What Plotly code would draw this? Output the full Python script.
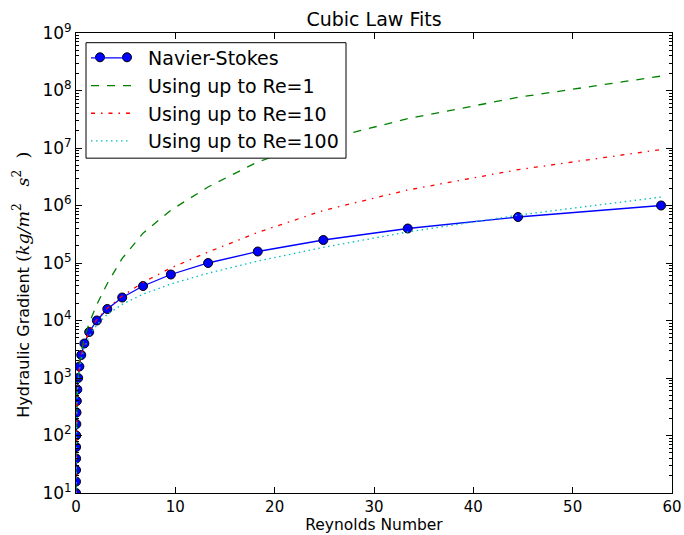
import plotly.graph_objects as go

# Reynolds numbers (shared by all series)
reynolds = [0.002, 0.003, 0.005, 0.008, 0.013, 0.021, 0.033, 0.053, 0.085, 0.135,
            0.22, 0.34, 0.53, 0.84, 1.33, 2.1, 3.15, 4.65, 6.75, 9.55,
            13.3, 18.3, 24.9, 33.4, 44.5, 58.9]

navier_stokes = [10, 15.8, 25.1, 39.8, 63.1, 100, 158, 251, 398, 631,
                 1000, 1585, 2512, 3981, 6310, 1.0e4, 1.585e4, 2.512e4, 3.981e4, 6.31e4,
                 1.0e5, 1.585e5, 2.512e5, 3.981e5, 6.31e5, 1.0e6]

fit_re1 = [10.2, 15.2, 25.4, 40.6, 66, 107, 168, 269, 432, 687,
           1126, 1762, 2824, 5.0e3, 9.0e3, 1.9e4, 4.4e4, 1.2e5, 3.3e5, 8.3e5,
           2.1e6, 5.75e6, 1.38e7, 3.24e7, 7.6e7, 1.78e8]

fit_re10 = [9.5, 14.3, 23.8, 38, 62, 100, 157, 252, 405, 643,
            1047, 1620, 2530, 4.0e3, 6.44e3, 1.04e4, 1.64e4, 2.66e4, 4.6e4, 8.2e4,
            1.55e5, 3.4e5, 8.2e5, 1.86e6, 4.2e6, 9.4e6]

fit_re100 = [8.0, 12, 20, 32, 52, 84, 132, 212, 339, 539,
             878, 1357, 2116, 3357, 5.32e3, 8.44e3, 1.28e4, 1.91e4, 2.87e4, 4.31e4,
             6.65e4, 1.08e5, 1.87e5, 3.47e5, 6.8e5, 1.4e6]

series_names = ["Navier-Stokes", "Using up to Re=1", "Using up to Re=10", "Using up to Re=100"]

x_ticks = [0, 10, 20, 30, 40, 50, 60]
y_tick_vals = [1e1, 1e2, 1e3, 1e4, 1e5, 1e6, 1e7, 1e8, 1e9]
y_tick_text = ["10<sup>%d</sup>" % e for e in range(1, 10)]

FONT = "DejaVu Sans"
W, H = 684, 535
L, R, T, B = 76, 12, 33, 41.5
PW, PH = W - L - R, H - T - B
PAD = "\u00a0\u00a0"


def px_x(p):
    return (p - L) / PW


def px_y(p):
    return (H - B - p) / PH


fig = go.Figure()
# Navier-Stokes data (legend entry drawn separately to get matplotlib-style 2-point symbol)
fig.add_trace(go.Scatter(
    x=reynolds, y=navier_stokes, mode="lines+markers", name=series_names[0],
    showlegend=False, legendgroup="ns",
    line=dict(color="#0000ff", width=1.3),
    marker=dict(size=9, color="#0000ff", line=dict(color="black", width=1))))
fig.add_trace(go.Scatter(
    x=[None], y=[None], mode="lines", name=PAD + series_names[0], legendgroup="ns",
    line=dict(color="#0000ff", width=1.3)))
fig.add_trace(go.Scatter(
    x=reynolds, y=fit_re1, mode="lines", name=PAD + series_names[1],
    line=dict(color="#008000", width=1.3, dash="8px,8px")))
fig.add_trace(go.Scatter(
    x=reynolds, y=fit_re10, mode="lines", name=PAD + series_names[2],
    line=dict(color="#ff0000", width=1.3, dash="4px,6px,1.5px,6px")))
fig.add_trace(go.Scatter(
    x=reynolds, y=fit_re100, mode="lines", name=PAD + series_names[3],
    line=dict(color="#00bfbf", width=1.3, dash="1.5px,3.5px")))

fig.update_layout(
    width=W, height=H,
    margin=dict(l=L, r=R, t=T, b=B, pad=0, autoexpand=False),
    paper_bgcolor="white", plot_bgcolor="white",
    font=dict(family=FONT, size=14, color="black"),
    title=dict(text="Cubic Law Fits", x=(L + PW / 2) / W, xanchor="center",
               y=1 - 19 / H, yanchor="middle", font=dict(size=19, family=FONT)),
    showlegend=True,
    legend=dict(x=px_x(86), y=px_y(39), xanchor="left", yanchor="top",
                bgcolor="rgba(0,0,0,0)", borderwidth=0, itemwidth=40,
                tracegroupgap=0,
                font=dict(size=19, family=FONT)),
    xaxis=dict(range=[0, 60], tickvals=x_ticks, ticks="inside", ticklen=6,
               tickcolor="black", showline=True, linecolor="black", linewidth=1,
               mirror="allticks", showgrid=False, zeroline=False, automargin=False,
               title=dict(text="Reynolds Number", font=dict(size=15.5), standoff=3),
               tickfont=dict(size=15)),
    yaxis=dict(type="log", range=[1, 9], tickvals=y_tick_vals, ticktext=y_tick_text,
               ticks="inside", ticklen=6, tickcolor="black", showline=True,
               linecolor="black", linewidth=1, mirror="allticks", showgrid=False,
               zeroline=False, tickfont=dict(size=17), automargin=False,
               minor=dict(dtick="D1", ticks="inside", ticklen=3, tickcolor="black",
                          showgrid=False)),
)

# legend frame (white box under the legend entries)
fig.add_shape(type="rect", xref="paper", yref="paper",
              x0=px_x(86), x1=px_x(346), y0=px_y(158.3), y1=px_y(42.7),
              fillcolor="white", line=dict(color="black", width=1), layer="above")
# two markers of the Navier-Stokes legend symbol
for cx in (100, 127):
    fig.add_shape(type="circle", xref="paper", yref="paper",
                  xsizemode="pixel", ysizemode="pixel",
                  xanchor=px_x(cx), yanchor=px_y(57.3),
                  x0=-4.5, x1=4.5, y0=-4.5, y1=4.5,
                  fillcolor="#0000ff", line=dict(color="black", width=1), layer="above")

fig.add_annotation(
    text="Hydraulic Gradient <span style=\"font-family:'DejaVu Serif'; font-size:17.5px\">"
         "(<i>kg/m</i><sup>2</sup>\u00a0\u00a0\u00a0<i>s</i><sup>2</sup>\u00a0\u00a0)</span>",
    xref="paper", yref="paper", x=-(L - 21) / PW, y=px_y(285),
    xanchor="center", yanchor="middle", textangle=-90, showarrow=False,
    font=dict(size=16, family=FONT))

fig.write_html("out.html")
